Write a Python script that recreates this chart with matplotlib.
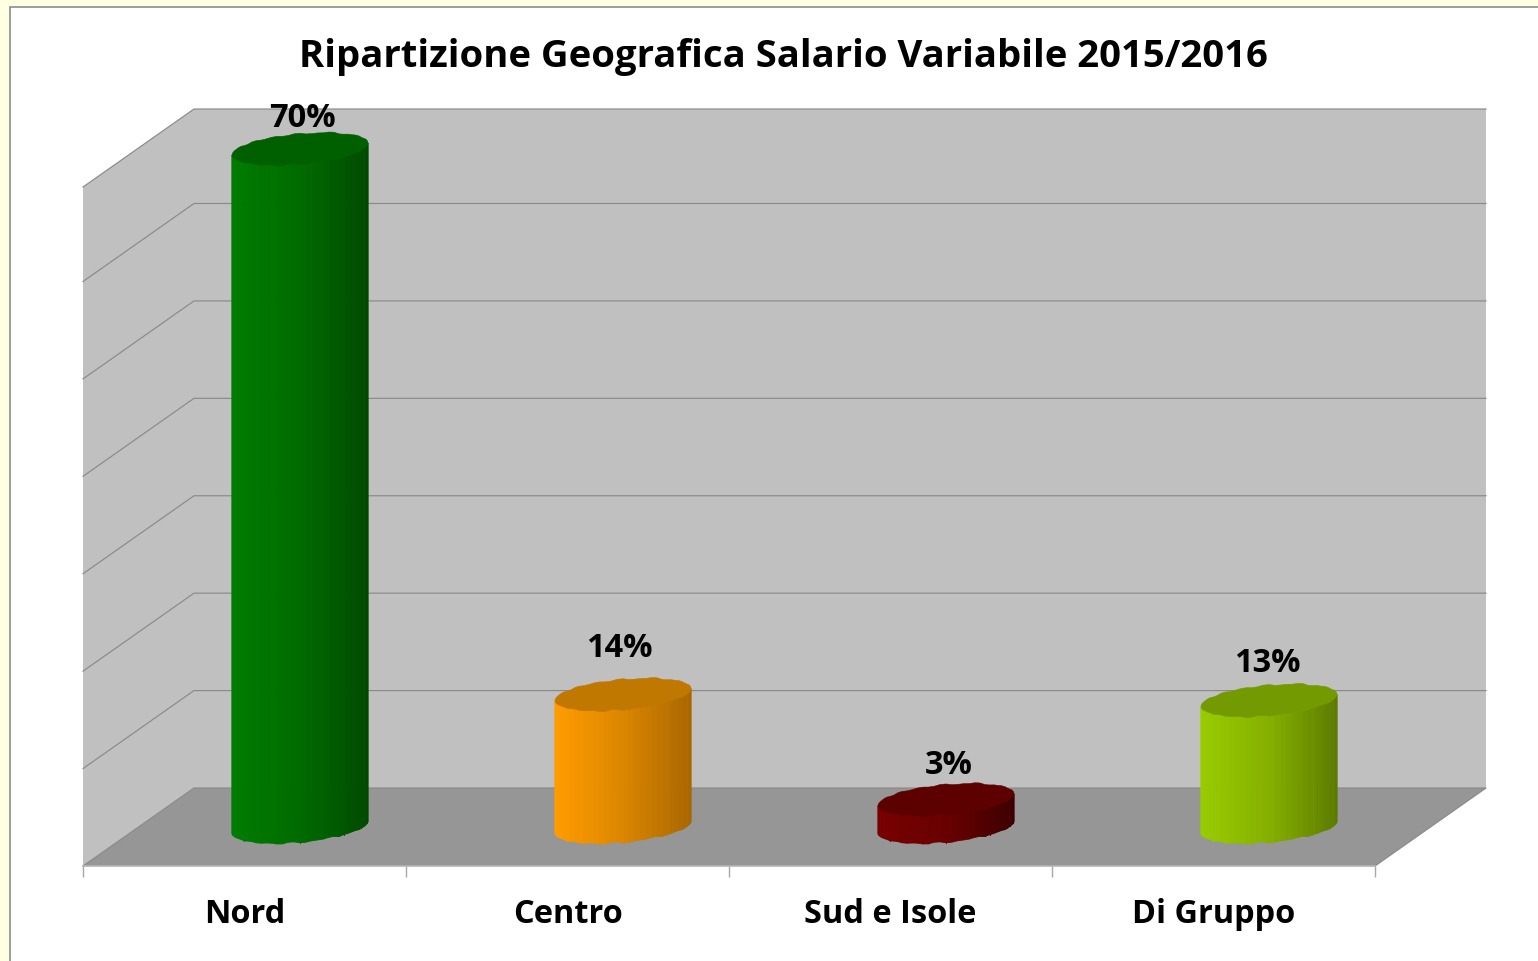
import numpy as np
import matplotlib.pyplot as plt
from matplotlib.colors import to_rgb
from matplotlib.patches import Rectangle

categories = ["Nord", "Centro", "Sud e Isole", "Di Gruppo"]
values = [69.6, 13.6, 2.8, 13.0]
value_labels = ["70%", "14%", "3%", "13%"]
grid_values = [10, 20, 30, 40, 50, 60]
title = "Ripartizione Geografica Salario Variabile 2015/2016"

# per bar styling: left, middle, right of the side shading, then the lid
side_left = ["#007c00", "#ff9c00", "#780000", "#99cc00"]
side_mid = ["#006a00", "#d98500", "#680000", "#84ae00"]
side_right = ["#004a00", "#a86700", "#3c0000", "#5c7a00"]
lid_colors = ["#006000", "#c07800", "#5c0000", "#739a00"]
label_gap = [30, 46, 34.5, 37]
label_shift = [2, -3.5, 2.5, -2]

W, H = 1538, 961
LEFT, RIGHT, BOTTOM, TOP = 83, 1375, 866, 187
DEPTH_X, DEPTH_Y = 111, 78
Y_MAX = 69.7
PX_X = 4 / (RIGHT - LEFT)
PX_Y = Y_MAX / (BOTTOM - TOP)

# bumps of the lid outline
lumps = [1.0, 1.06, 0.96, 1.05, 1.0, 0.95, 1.06, 1.0, 0.97, 1.05, 0.98, 1.04]
# where the facets of a bar catch the light, 0 to 1 across its width
facets = [0.07, 0.5, 0.79, 0.96]

plt.rcParams["font.family"] = ["Open Sans", "DejaVu Sans"]

fig = plt.figure(figsize=(W / 100, H / 100), dpi=100, facecolor="#ffffe3")
frame = Rectangle((10 / W, -0.01), 1.01, 1.01 - 7 / H, transform=fig.transFigure,
                  facecolor="white", edgecolor="#8c8c8c", linewidth=1.2, zorder=-1)
fig.add_artist(frame)
ax = fig.add_axes([LEFT / W, 1 - BOTTOM / H, (RIGHT - LEFT) / W, (BOTTOM - TOP) / H])
ax.set_xlim(0, 4)
ax.set_ylim(0, Y_MAX)
ax.patch.set_visible(False)

dx = DEPTH_X * PX_X
dy = DEPTH_Y * PX_Y

# walls as one shape so no seam shows at the corner, then the floor
ax.fill([0, dx, 4 + dx, 4 + dx, dx, 0], [Y_MAX, Y_MAX + dy, Y_MAX + dy, dy, dy, 0],
        color="#c0c0c0", lw=0, clip_on=False, zorder=1)
ax.fill([0, dx, 4 + dx, 4], [0, dy, dy, 0], color="#969696", lw=0, clip_on=False, zorder=1)

grid_color = "#8a8a8a"
for v in grid_values + [Y_MAX]:
    ax.plot([0, dx, 4 + dx], [v, v + dy, v + dy], color=grid_color, lw=0.85, clip_on=False, zorder=2)
ax.plot([0, dx, 4 + dx, 4], [0, dy, dy, 0], color=grid_color, lw=0.85, clip_on=False, zorder=2)


def outline(cx, base, t):
    # elliptical section of a bar, sheared by the oblique view
    k = np.array([lumps[int(a / (2 * np.pi) * 36) % len(lumps)] for a in t])
    x = cx + 68 * PX_X * np.cos(t)
    y = base + (15 * k * np.sin(t) + 6 * np.cos(t)) * PX_Y
    return x, y


def shade(c0, c1, c2, u):
    c0, c1, c2 = map(np.array, (to_rgb(c0), to_rgb(c1), to_rgb(c2)))
    if u < 0.5:
        return c0 + (c1 - c0) * u * 2
    return c1 + (c2 - c1) * (u - 0.5) * 2


for i, v in enumerate(values):
    cx = i + 0.5 + dx / 2
    base = dy / 2
    top = base + v
    t = np.linspace(np.pi, 2 * np.pi, 37)
    x_low, y_low = outline(cx, 0, t)
    for j in range(len(t) - 1):
        u = (x_low[j] - x_low[0]) / (x_low[-1] - x_low[0])
        c = shade(side_left[i], side_mid[i], side_right[i], u)
        ax.fill([x_low[j], x_low[j + 1], x_low[j + 1], x_low[j]],
                [base + y_low[j], base + y_low[j + 1], top + y_low[j + 1], top + y_low[j]],
                color=c, lw=0.6, clip_on=False, zorder=3)
    for u in facets:
        j = np.searchsorted((x_low - x_low[0]) / (x_low[-1] - x_low[0]), u)
        c = shade(side_left[i], side_mid[i], side_right[i], u) * 0.92 + 0.08 * np.array(to_rgb(side_left[i]))
        ax.plot([x_low[j], x_low[j]], [base + y_low[j], top + y_low[j]], color=c, lw=0.7, clip_on=False, zorder=3)
    t = np.linspace(0, 2 * np.pi, 73)
    x_lid, y_lid = outline(cx, top, t)
    ax.fill(x_lid, y_lid, color=lid_colors[i], lw=0.4, clip_on=False, zorder=4)
    ax.text(cx + label_shift[i] * PX_X, top + label_gap[i] * PX_Y, value_labels[i], ha="center", va="center",
            fontsize=23.5, fontweight="bold", color="black", zorder=5)

for side in ["top", "left", "right"]:
    ax.spines[side].set_visible(False)
ax.spines["bottom"].set_color("#b4b4b4")
ax.spines["bottom"].set_linewidth(1.2)
ax.spines["bottom"].set_zorder(2)

ax.set_yticks([])
ax.set_xticks(range(5))
ax.set_xticklabels([])
ax.set_xticks(np.arange(4) + 0.5, categories, minor=True)
ax.tick_params(axis="x", which="major", length=8, width=1, color="#a8a8a8")
ax.tick_params(axis="x", which="minor", length=0, pad=23, labelsize=23.4)
for lab in ax.get_xticklabels(minor=True):
    lab.set_fontweight("bold")

fig.text(783.5 / W, 1 - 57 / H, title, ha="center", va="center", fontsize=27.5, fontweight="bold", color="black")

fig.savefig("out.png", dpi=100, facecolor=fig.get_facecolor())
